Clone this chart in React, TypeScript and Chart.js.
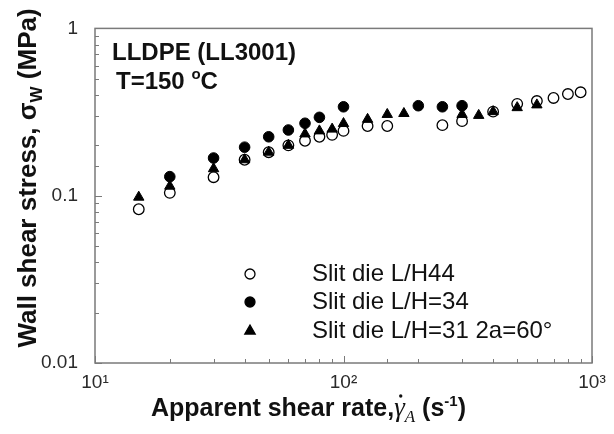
import React, { useEffect, useRef } from 'react';
import { Chart, registerables } from 'chart.js';
import { drawPoint } from 'chart.js/helpers';

Chart.register(...registerables);

// ---- Data ----
const seriesNames = ['Slit die L/H44', 'Slit die L/H=34', 'Slit die L/H=31 2a=60\u00B0'];

const openX = [15, 20, 30, 40, 50, 60, 70, 80, 90, 100, 125, 150, 250, 300, 400, 500, 600, 700, 800, 900];
const openY = [0.083, 0.104, 0.129, 0.164, 0.182, 0.2, 0.213, 0.225, 0.231, 0.244, 0.261, 0.261, 0.264, 0.279, 0.318, 0.354, 0.368, 0.384, 0.405, 0.415];

const filledX = [20, 30, 40, 50, 60, 70, 80, 100, 200, 250, 300];
const filledY = [0.13, 0.168, 0.195, 0.225, 0.247, 0.271, 0.294, 0.34, 0.345, 0.34, 0.345];

const triX = [15, 20, 30, 40, 50, 60, 70, 80, 90, 100, 125, 150, 175, 300, 350, 400, 500, 600];
const triY = [0.098, 0.114, 0.145, 0.164, 0.182, 0.2, 0.234, 0.244, 0.25, 0.27, 0.286, 0.306, 0.31, 0.306, 0.302, 0.318, 0.336, 0.349];

const xTickValues = [10, 100, 1000];
const xTickLabels = ['10\u00B9', '10\u00B2', '10\u00B3'];
const yTickValues = [0.01, 0.1, 1];
const yTickLabels = ['0.01', '0.1', '1'];

const annotationLine1 = 'LLDPE (LL3001)';
const annotationLine2 = 'T=150 ';

const SANS = '"Liberation Sans", Arial, Helvetica, sans-serif';
const SERIF = '"Liberation Serif", "Times New Roman", serif';

function labelFor(v: number, values: number[], labels: string[]): string {
  for (let i = 0; i < values.length; i++) {
    if (Math.abs(Math.log10(v) - Math.log10(values[i])) < 1e-6) return labels[i];
  }
  return '';
}

type Seg = { text: string; font: string; dy?: number };

function segWidth(ctx: CanvasRenderingContext2D, segs: Seg[]) {
  let w = 0;
  for (const s of segs) {
    ctx.font = s.font;
    w += ctx.measureText(s.text).width;
  }
  return w;
}

function drawSegs(ctx: CanvasRenderingContext2D, segs: Seg[], x: number, y: number) {
  let cx = x;
  for (const s of segs) {
    ctx.font = s.font;
    ctx.fillText(s.text, cx, y + (s.dy || 0));
    cx += ctx.measureText(s.text).width;
  }
  return cx;
}

const decorPlugin = {
  id: 'decor',
  afterDraw(chart: any) {
    const ctx: CanvasRenderingContext2D = chart.ctx;
    const { left, right, top, bottom } = chart.chartArea;
    const xs = chart.scales.x;
    const ys = chart.scales.y;
    ctx.save();

    // frame
    ctx.strokeStyle = '#7a7a7a';
    ctx.lineWidth = 1.5;
    ctx.strokeRect(left, top, right - left, bottom - top);

    // inward tick marks (left and bottom)
    ctx.lineWidth = 1;
    ctx.strokeStyle = '#7a7a7a';
    ctx.beginPath();
    for (const t of xs.ticks) {
      const major = labelFor(t.value, xTickValues, xTickLabels) !== '';
      const px = Math.round(xs.getPixelForValue(t.value)) + 0.5;
      ctx.moveTo(px, bottom);
      ctx.lineTo(px, bottom - (major ? 7 : 4));
    }
    for (const t of ys.ticks) {
      const major = labelFor(t.value, yTickValues, yTickLabels) !== '';
      const py = Math.round(ys.getPixelForValue(t.value)) + 0.5;
      ctx.moveTo(left, py);
      ctx.lineTo(left + (major ? 7 : 4), py);
    }
    ctx.stroke();

    ctx.fillStyle = '#111';
    ctx.textAlign = 'left';
    ctx.textBaseline = 'alphabetic';

    // annotation
    const bold24 = `bold 24px ${SANS}`;
    ctx.font = bold24;
    ctx.fillText(annotationLine1, 112, 60);
    drawSegs(ctx, [
      { text: annotationLine2, font: bold24 },
      { text: 'o', font: `bold 15px ${SANS}`, dy: -10 },
      { text: 'C', font: bold24 },
    ], 116, 89);

    // legend
    const legendY = [274, 302, 331];
    const styles = [
      { pointStyle: 'circle', radius: 5, fill: 'rgba(0,0,0,0)' },
      { pointStyle: 'circle', radius: 5, fill: '#000' },
      { pointStyle: 'triangle', radius: 6, fill: '#000' },
    ];
    for (let i = 0; i < 3; i++) {
      ctx.fillStyle = styles[i].fill;
      ctx.strokeStyle = '#000';
      ctx.lineWidth = 1.3;
      drawPoint(ctx, { pointStyle: styles[i].pointStyle as any, radius: styles[i].radius, rotation: 0, borderWidth: 1.3 } as any, 250, legendY[i]);
      ctx.fillStyle = '#111';
      ctx.font = `24px ${SANS}`;
      ctx.textBaseline = 'middle';
      ctx.fillText(seriesNames[i], 312, legendY[i]);
    }
    ctx.textBaseline = 'alphabetic';

    // x title
    const bold25 = `bold 25px ${SANS}`;
    const xSegs: Seg[] = [
      { text: 'Apparent shear rate,', font: bold25 },
      { text: '\u03B3', font: `italic 27px ${SERIF}` },
      { text: 'A', font: `italic 17px ${SERIF}`, dy: 6 },
      { text: ' (s', font: bold25 },
      { text: '-1', font: `bold 15px ${SANS}`, dy: -10 },
      { text: ')', font: bold25 },
    ];
    const xBase = 416;
    const startX = 151;
    ctx.font = bold25;
    const gx = startX + ctx.measureText('Apparent shear rate,').width;
    drawSegs(ctx, xSegs, startX, xBase);
    ctx.font = `italic 27px ${SERIF}`;
    const gw = ctx.measureText('\u03B3').width;
    ctx.beginPath();
    ctx.arc(gx + gw * 0.62, xBase - 20, 1.7, 0, Math.PI * 2);
    ctx.fill();

    // y title (rotated)
    const bold26 = `bold 26px ${SANS}`;
    const ySegs: Seg[] = [
      { text: 'Wall shear stress, ', font: bold26 },
      { text: '\u03C3', font: bold26 },
      { text: 'W', font: `bold 17px ${SANS}`, dy: 6 },
      { text: ' (MPa)', font: bold26 },
    ];
    const yw = segWidth(ctx, ySegs);
    ctx.save();
    ctx.translate(36, 178);
    ctx.rotate(-Math.PI / 2);
    drawSegs(ctx, ySegs, -yw / 2, 0);
    ctx.restore();

    ctx.restore();
  },
};

export default function App() {
  const ref = useRef<HTMLCanvasElement | null>(null);

  useEffect(() => {
    if (!ref.current) return;
    const mk = (xs: number[], ys: number[]) => xs.map((x, i) => ({ x, y: ys[i] }));
    const chart = new Chart(ref.current, {
      type: 'scatter',
      data: {
        datasets: [
          {
            label: seriesNames[2],
            data: mk(triX, triY),
            pointStyle: 'triangle',
            pointRadius: 6,
            backgroundColor: '#000',
            borderColor: '#000',
            borderWidth: 1,
          },
          {
            label: seriesNames[1],
            data: mk(filledX, filledY),
            pointStyle: 'circle',
            pointRadius: 5.3,
            backgroundColor: '#000',
            borderColor: '#000',
            borderWidth: 1,
          },
          {
            label: seriesNames[0],
            data: mk(openX, openY),
            pointStyle: 'circle',
            pointRadius: 5.3,
            backgroundColor: 'rgba(0,0,0,0)',
            borderColor: '#000',
            borderWidth: 1.3,
          },
        ],
      },
      options: {
        responsive: false,
        animation: false,
        layout: { padding: { top: 17, right: 22, left: 0, bottom: 0 } },
        plugins: {
          legend: { display: false },
          tooltip: { enabled: false },
          title: { display: false },
        },
        scales: {
          x: {
            type: 'logarithmic',
            min: 10,
            max: 1000,
            grid: { display: false, drawTicks: false, tickLength: 0 },
            border: { display: false },
            ticks: {
              autoSkip: false,
              maxRotation: 0,
              minRotation: 0,
              padding: 8,
              color: '#2a2a2a',
              font: { family: SANS, size: 19 },
              callback: (v: any) => labelFor(Number(v), xTickValues, xTickLabels),
            },
            afterFit: (s: any) => {
              s.height = 71;
            },
          },
          y: {
            type: 'logarithmic',
            min: 0.01,
            max: 1,
            grid: { display: false, drawTicks: false, tickLength: 0 },
            border: { display: false },
            ticks: {
              autoSkip: false,
              padding: 17,
              color: '#2a2a2a',
              font: { family: SANS, size: 19 },
              callback: (v: any) => labelFor(Number(v), yTickValues, yTickLabels),
            },
            afterFit: (s: any) => {
              s.width = 95;
            },
          },
        },
      } as any,
      plugins: [decorPlugin],
    });
    return () => chart.destroy();
  }, []);

  return (
    <div style={{ position: 'fixed', left: 0, top: 0, width: 614, height: 434, background: '#fff' }}>
      <canvas ref={ref} width={614} height={434} style={{ display: 'block' }} />
    </div>
  );
}
